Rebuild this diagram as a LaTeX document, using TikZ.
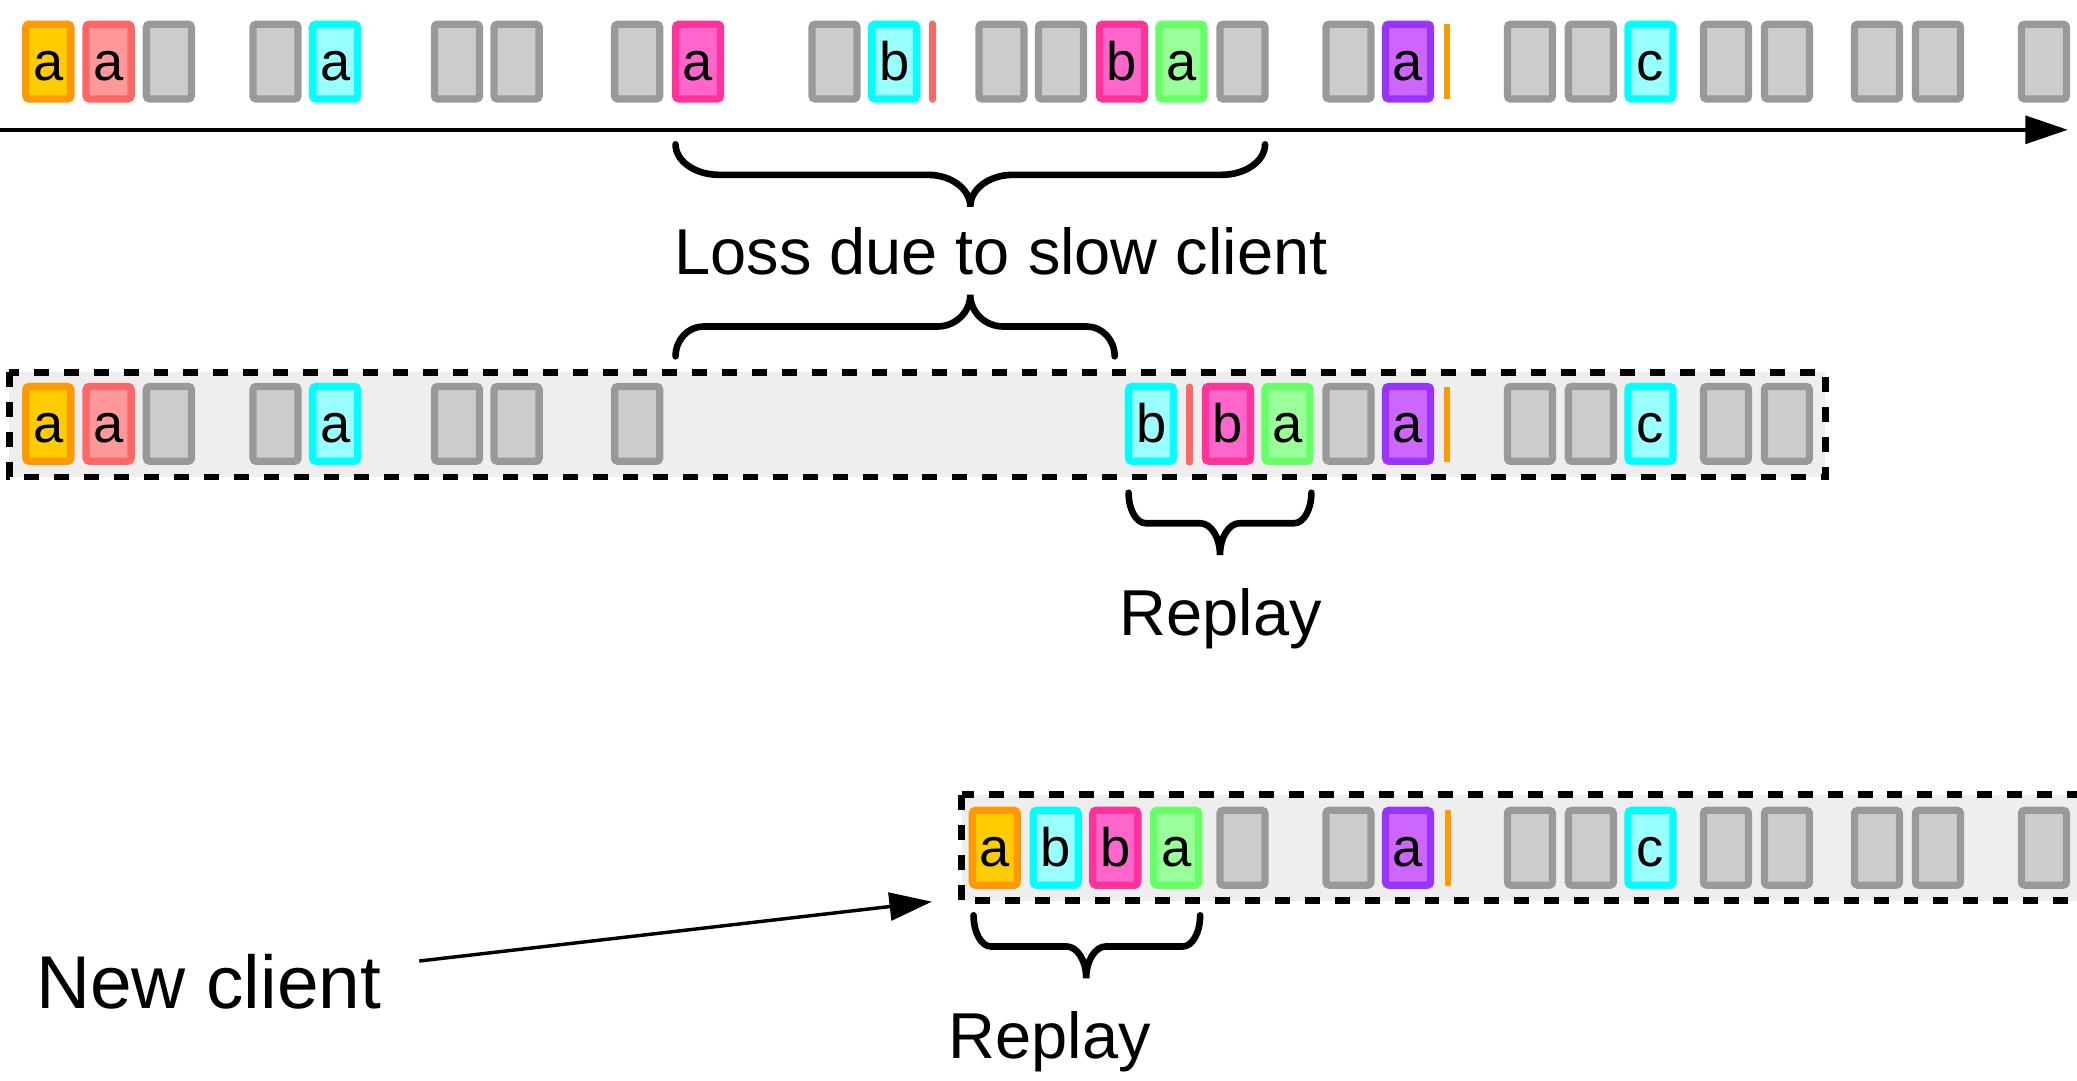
\documentclass[tikz,border=0pt]{standalone}
\usepackage{fontspec}
\setmainfont{Liberation Sans}
\usetikzlibrary{arrows.meta}
\definecolor{orB}{HTML}{FF9900}\definecolor{orF}{HTML}{FFCC00}
\definecolor{rdB}{HTML}{FF6666}\definecolor{rdF}{HTML}{FF9999}
\definecolor{grB}{HTML}{999999}\definecolor{grF}{HTML}{CCCCCC}
\definecolor{cyB}{HTML}{00FFFF}\definecolor{cyF}{HTML}{99FFFF}
\definecolor{pkB}{HTML}{FF3399}\definecolor{pkF}{HTML}{FF66CC}
\definecolor{gnB}{HTML}{66FF66}\definecolor{gnF}{HTML}{99FF99}
\definecolor{puB}{HTML}{9933FF}\definecolor{puF}{HTML}{CC66FF}
\definecolor{strF}{HTML}{EEEEEE}
\tikzset{
  pkt/.style={draw, line width=5.5pt, rounded corners=2.5pt, minimum width=34pt,
    minimum height=56.5pt, inner sep=0pt, text height=28pt, text depth=0pt,
    font=\fontsize{41}{48}\selectfont},
  por/.style={pkt, draw=orB, fill=orF},
  prd/.style={pkt, draw=rdB, fill=rdF},
  pgr/.style={pkt, draw=grB, fill=grF},
  pcy/.style={pkt, draw=cyB, fill=cyF},
  ppk/.style={pkt, draw=pkB, fill=pkF},
  pgn/.style={pkt, draw=gnB, fill=gnF},
  ppu/.style={pkt, draw=puB, fill=puF},
  seprd/.style={draw=rdB, line width=5pt, line cap=round},
  sepor/.style={draw=orB, line width=4.2pt},
  stream/.style={draw=black, fill=strF, line width=5pt, dash pattern=on 11.3pt off 11.3pt},
  bracestyle/.style={draw=black, line width=5pt, line cap=round},
  lbl/.style={inner sep=0pt, anchor=base west, font=\fontsize{49}{57}\selectfont},
  axis/.style={draw=black, line width=2.8pt, -{Triangle[length=32pt,width=21pt]}},
}
\newcommand{\mybrace}[8]{% x1,x2,xm,y0,yh,yt,r,c
  \pgfmathsetmacro\brcA{#4+0.552*(#5-#4)}%
  \pgfmathsetmacro\brcB{#1+0.448*#7}%
  \pgfmathsetmacro\brcC{#1+#7}%
  \pgfmathsetmacro\brcD{#3-#8}%
  \pgfmathsetmacro\brcE{#3-0.448*#8}%
  \pgfmathsetmacro\brcF{#6-0.552*(#6-#5)}%
  \pgfmathsetmacro\brcG{#3+0.448*#8}%
  \pgfmathsetmacro\brcH{#3+#8}%
  \pgfmathsetmacro\brcI{#2-#7}%
  \pgfmathsetmacro\brcJ{#2-0.448*#7}%
  \draw[bracestyle] (#1,#4) .. controls (#1,\brcA) and (\brcB,#5) .. (\brcC,#5)
    -- (\brcD,#5) .. controls (\brcE,#5) and (#3,\brcF) .. (#3,#6)
    .. controls (#3,\brcF) and (\brcG,#5) .. (\brcH,#5)
    -- (\brcI,#5) .. controls (\brcJ,#5) and (#2,\brcA) .. (#2,#4);
}
\begin{document}
\begin{tikzpicture}[x=1pt,y=-1pt]
\useasboundingbox (0,0) rectangle (1568,816);
% ---------- top row ----------
\node[por] (t1) at (36.5,46.5) {a};
\node[prd] (t2) at (82,46.5) {a};
\node[pgr] (t3) at (127.5,46.5) {};
\node[pgr] (t4) at (208,46.5) {};
\node[pcy] (t5) at (253,46.5) {a};
\node[pgr] (t6) at (345,46.5) {};
\node[pgr] (t7) at (390,46.5) {};
\node[pgr] (t8) at (481,46.5) {};
\node[ppk] (t9) at (527,46.5) {a};
\node[pgr] (t10) at (630,46.5) {};
\node[pcy] (t11) at (675,46.5) {b};
\draw[seprd] (704,18) -- (704,75);
\node[pgr] (t12) at (756,46.5) {};
\node[pgr] (t13) at (801,46.5) {};
\node[ppk] (t14) at (847,46.5) {b};
\node[pgn] (t15) at (892,46.5) {a};
\node[pgr] (t16) at (938,46.5) {};
\node[pgr] (t17) at (1018,46.5) {};
\node[ppu] (t18) at (1063,46.5) {a};
\draw[sepor] (1092.5,18) -- (1092.5,75);
\node[pgr] (t19) at (1155,46.5) {};
\node[pgr] (t20) at (1201,46.5) {};
\node[pcy] (t21) at (1246,46.5) {c};
\node[pgr] (t22) at (1303,46.5) {};
\node[pgr] (t23) at (1349,46.5) {};
\node[pgr] (t24) at (1417,46.5) {};
\node[pgr] (t25) at (1463,46.5) {};
\node[pgr] (t26) at (1543,46.5) {};
% time axis
\coordinate (ax0) at (0,98);
\coordinate (ax1) at (1561,98);
\draw[axis] (ax0) -- (ax1);
% braces around loss
\mybrace{510}{955}{732.5}{109}{132}{156}{33}{32}
\node[lbl] (loss) at (509,207) {Loss due to slow client};
\mybrace{510}{841.5}{732.5}{269}{246.5}{222.5}{21}{25}
% ---------- slow client stream ----------
\draw[stream] (7,281) rectangle (1378,360);
\node[por] (m1) at (36.5,320) {a};
\node[prd] (m2) at (82,320) {a};
\node[pgr] (m3) at (127.5,320) {};
\node[pgr] (m4) at (208,320) {};
\node[pcy] (m5) at (253,320) {a};
\node[pgr] (m6) at (345,320) {};
\node[pgr] (m7) at (390,320) {};
\node[pgr] (m8) at (481,320) {};
\node[pcy] (m9) at (869,320) {b};
\draw[seprd] (898,292) -- (898,349);
\node[ppk] (m10) at (927,320) {b};
\node[pgn] (m11) at (972,320) {a};
\node[pgr] (m12) at (1018,320) {};
\node[ppu] (m13) at (1063,320) {a};
\draw[sepor] (1092.5,292) -- (1092.5,349);
\node[pgr] (m14) at (1155,320) {};
\node[pgr] (m15) at (1201,320) {};
\node[pcy] (m16) at (1246,320) {c};
\node[pgr] (m17) at (1303,320) {};
\node[pgr] (m18) at (1349,320) {};
\mybrace{852}{990}{921}{372}{395}{419}{13}{15}
\node[lbl] (rep1) at (845,479.5) {Replay};
% ---------- new client stream ----------
\draw[stream] (726,600) rectangle (1600,680);
\node[por] (n1) at (751,640) {a};
\node[pcy] (n2) at (797,640) {b};
\node[ppk] (n3) at (842,640) {b};
\node[pgn] (n4) at (888,640) {a};
\node[pgr] (n5) at (938,640) {};
\node[pgr] (n6) at (1018,640) {};
\node[ppu] (n7) at (1063,640) {a};
\draw[sepor] (1093,611.5) -- (1093,669);
\node[pgr] (n8) at (1155,640) {};
\node[pgr] (n9) at (1201,640) {};
\node[pcy] (n10) at (1246,640) {c};
\node[pgr] (n11) at (1303,640) {};
\node[pgr] (n12) at (1349,640) {};
\node[pgr] (n13) at (1417,640) {};
\node[pgr] (n14) at (1463,640) {};
\node[pgr] (n15) at (1543,640) {};
\mybrace{735}{906}{820}{691}{714.5}{738.5}{13}{15}
\node[lbl] (rep2) at (716,799) {Replay};
% new client label and arrow
\node[lbl, font=\fontsize{56.5}{65}\selectfont] (nc) at (27,761) {New client};
\coordinate (ncs) at (316.5,725.5);
\coordinate (nce) at (703.5,680.7);
\draw[axis, line width=2.6pt] (ncs) -- (nce);
\end{tikzpicture}
\end{document}
